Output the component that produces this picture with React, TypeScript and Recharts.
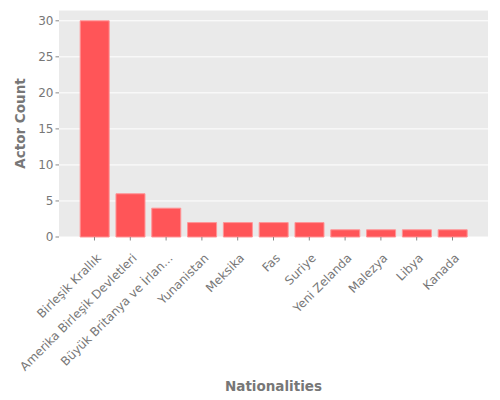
import React from "react";
import { BarChart, Bar, XAxis, YAxis, CartesianGrid, Label } from "recharts";

const categories = [
  "Birleşik Krallık",
  "Amerika Birleşik Devletleri",
  "Büyük Britanya ve İrlan...",
  "Yunanistan",
  "Meksika",
  "Fas",
  "Suriye",
  "Yeni Zelanda",
  "Malezya",
  "Libya",
  "Kanada",
];
const actorCounts = [30, 6, 4, 2, 2, 2, 2, 1, 1, 1, 1];
const yTicks = [0, 5, 10, 15, 20, 25, 30];

const data = categories.map((name, i) => ({ name, count: actorCounts[i] }));

const FONT = "'DejaVu Sans', sans-serif";

const XTick = (props: any) => {
  const { x, y, payload } = props;
  return (
    <g transform={`translate(${x + 1},${y + 10}) rotate(-45)`}>
      <text x={0} y={0} dy="0.75em" textAnchor="end" fill="#777" fontSize={12} fontFamily={FONT}>
        {payload.value}
      </text>
    </g>
  );
};

export default function App() {
  return (
    <div style={{ position: "absolute", left: 0, top: 0, width: 500, height: 400, background: "#fff" }}>
      <BarChart
        width={500}
        height={400}
        data={data}
        margin={{ top: 10, right: 12, left: 0, bottom: 0 }}
        barCategoryGap="10%"
      >
        <CartesianGrid stroke="#fff" strokeWidth={1} vertical={false} fill="#EAEAEA" />
        <XAxis
          dataKey="name"
          interval={0}
          padding={{ left: 17.6, right: 17.6 }}
          axisLine={false}
          tickLine={{ stroke: "#888" }}
          tickSize={3.5}
          height={163}
          tick={<XTick />}
        >
          <Label
            value="Nationalities"
            position="insideBottom"
            offset={9}
            fill="#777"
            fontSize={13.5}
            fontWeight="bold"
            fontFamily={FONT}
          />
        </XAxis>
        <YAxis
          domain={[0, 31.5]}
          ticks={yTicks}
          width={59}
          axisLine={false}
          tickLine={{ stroke: "#888" }}
          tickSize={3.5}
          tick={{ fill: "#777", fontSize: 12, fontFamily: FONT }}
        >
          <Label
            value="Actor Count"
            angle={-90}
            position="insideLeft"
            offset={20}
            fill="#777"
            fontSize={13.5}
            fontWeight="bold"
            fontFamily={FONT}
            style={{ textAnchor: "middle" }}
          />
        </YAxis>
        <Bar dataKey="count" fill="#FF5558" stroke="#FF9496" strokeWidth={1} isAnimationActive={false} />
      </BarChart>
    </div>
  );
}
